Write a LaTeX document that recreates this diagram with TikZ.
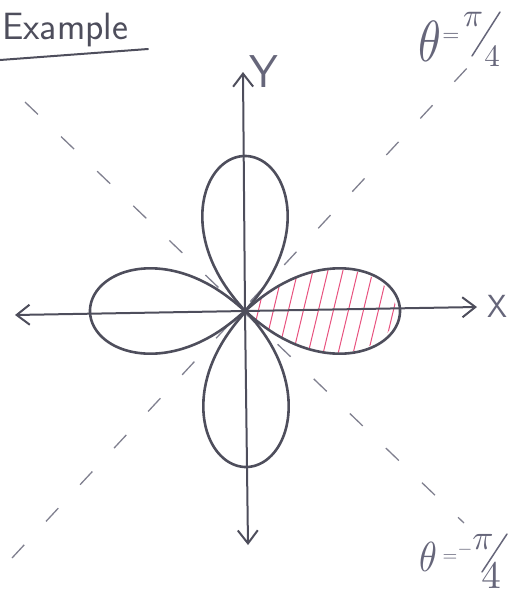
\documentclass[tikz,border=0pt]{standalone}
\usepackage{graphicx}
\usetikzlibrary{arrows.meta}
\definecolor{pencil}{HTML}{4E4E5C}
\definecolor{softpencil}{HTML}{66667A}
\definecolor{lightpencil}{HTML}{80808F}
\definecolor{hatchpink}{HTML}{E8527F}
\newcommand\bigmath[2]{\scalebox{#1}{$#2$}}
\begin{document}
\begin{tikzpicture}[x=1pt,y=-1pt,
  curve/.style={draw=pencil,line width=2.6pt,line join=round},
  axisline/.style={draw=pencil,line width=2pt,line cap=round},
  barb/.style={-{Straight Barb[length=13pt,width=20pt,line width=2pt]}},
  guide/.style={draw=lightpencil,line width=1.3pt,dash pattern=on 18pt off 32pt},
  hatchline/.style={draw=hatchpink,line width=1pt},
  hand/.style={text=pencil,inner sep=0pt},
  soft/.style={text=softpencil,inner sep=0pt},
  declare function={rr(\t)=pow(cos(2*\t),0.7);},
]
\useasboundingbox (0,0) rectangle (513,598);

% named points
\coordinate (O) at (245,311);
\coordinate (xl) at (15,315);
\coordinate (xr) at (477,307);
\coordinate (yt) at (243,72);
\coordinate (yb) at (248,545);
\coordinate (ul) at (25,102);
\coordinate (lr) at (464,523);
\coordinate (ur) at (469,66);
\coordinate (ll) at (12,558);

% dashed guide lines theta = +-pi/4
\draw[guide] (ul) -- (lr);
\draw[guide] (ll) -- (ur);

% hatching of the right petal
\begin{scope}
  \clip (O) -- plot[domain=-44.9:44.9,samples=90,smooth]
    ({245+151*rr(\x)*cos(\x)},{311-151*rr(\x)*0.88*sin(\x)}) -- cycle;
  \foreach \u in {258,273,...,393}
    \draw[hatchline] (\u+12,262) -- (\u-11,358);
\end{scope}

% axes
\draw[axisline,barb] (O) -- (xr);
\draw[axisline,barb] (O) -- (xl);
\draw[axisline,barb] (O) -- (yt);
\draw[axisline,barb] (O) -- (yb);

% four-leaved rose
\draw[curve] (O) -- plot[domain=-44.9:44.9,samples=90,smooth]
  ({245+155*rr(\x)*cos(\x)},{311-155*rr(\x)*0.88*sin(\x)}) -- cycle;
\draw[curve] (O) -- plot[domain=-44.9:44.9,samples=90,smooth]
  ({245-155*rr(\x)*0.88*sin(\x)},{311-155*rr(\x)*cos(\x)}) -- cycle;
\draw[curve] (O) -- plot[domain=-44.9:44.9,samples=90,smooth]
  ({245-155*rr(\x)*cos(\x)},{311+155*rr(\x)*0.88*sin(\x)}) -- cycle;
\draw[curve] (O) -- plot[domain=-44.9:44.9,samples=90,smooth]
  ({246+155*rr(\x)*0.88*sin(\x)},{311+156*rr(\x)*cos(\x)}) -- cycle;

% title
\node[hand,font=\sffamily\fontsize{38}{38}\selectfont,anchor=base west] (title) at (2,39) {Example};
\coordinate (u1) at (0,60);
\coordinate (u2) at (148,49);
\draw[axisline] (u1) -- (u2);

% axis labels
\node[soft,font=\sffamily\fontsize{46}{46}\selectfont] (ylab) at (264,72) {Y};
\node[soft,font=\sffamily\fontsize{32}{32}\selectfont] (xlab) at (497,306) {X};

% theta = pi/4
\node[soft] (th1) at (430,41) {\scalebox{4.6}[5.8]{$\theta$}};
\node[soft] (eq1) at (451,37) {\bigmath{2.2}{=}};
\node[soft] (pi1) at (473,19) {\bigmath{3.3}{\pi}};
\node[soft] (four1) at (492,57) {\bigmath{3.1}{4}};
\coordinate (s1a) at (500,12);
\coordinate (s1b) at (472,56);
\draw[axisline,draw=softpencil,line width=1.5pt] (s1a) -- (s1b);

% theta = -pi/4
\node[soft] (th2) at (428,557) {\scalebox{3.6}[4.2]{$\theta$}};
\node[soft] (eq2) at (450,558) {\bigmath{1.9}{=}};
\node[soft] (mi2) at (465,550) {\bigmath{1.9}{-}};
\node[soft] (pi2) at (483,542) {\bigmath{3.5}{\pi}};
\node[soft] (four2) at (491,576) {\bigmath{3.9}{4}};
\coordinate (s2a) at (507,534);
\coordinate (s2b) at (482,572);
\draw[axisline,draw=softpencil,line width=1.5pt] (s2a) -- (s2b);
\end{tikzpicture}
\end{document}
